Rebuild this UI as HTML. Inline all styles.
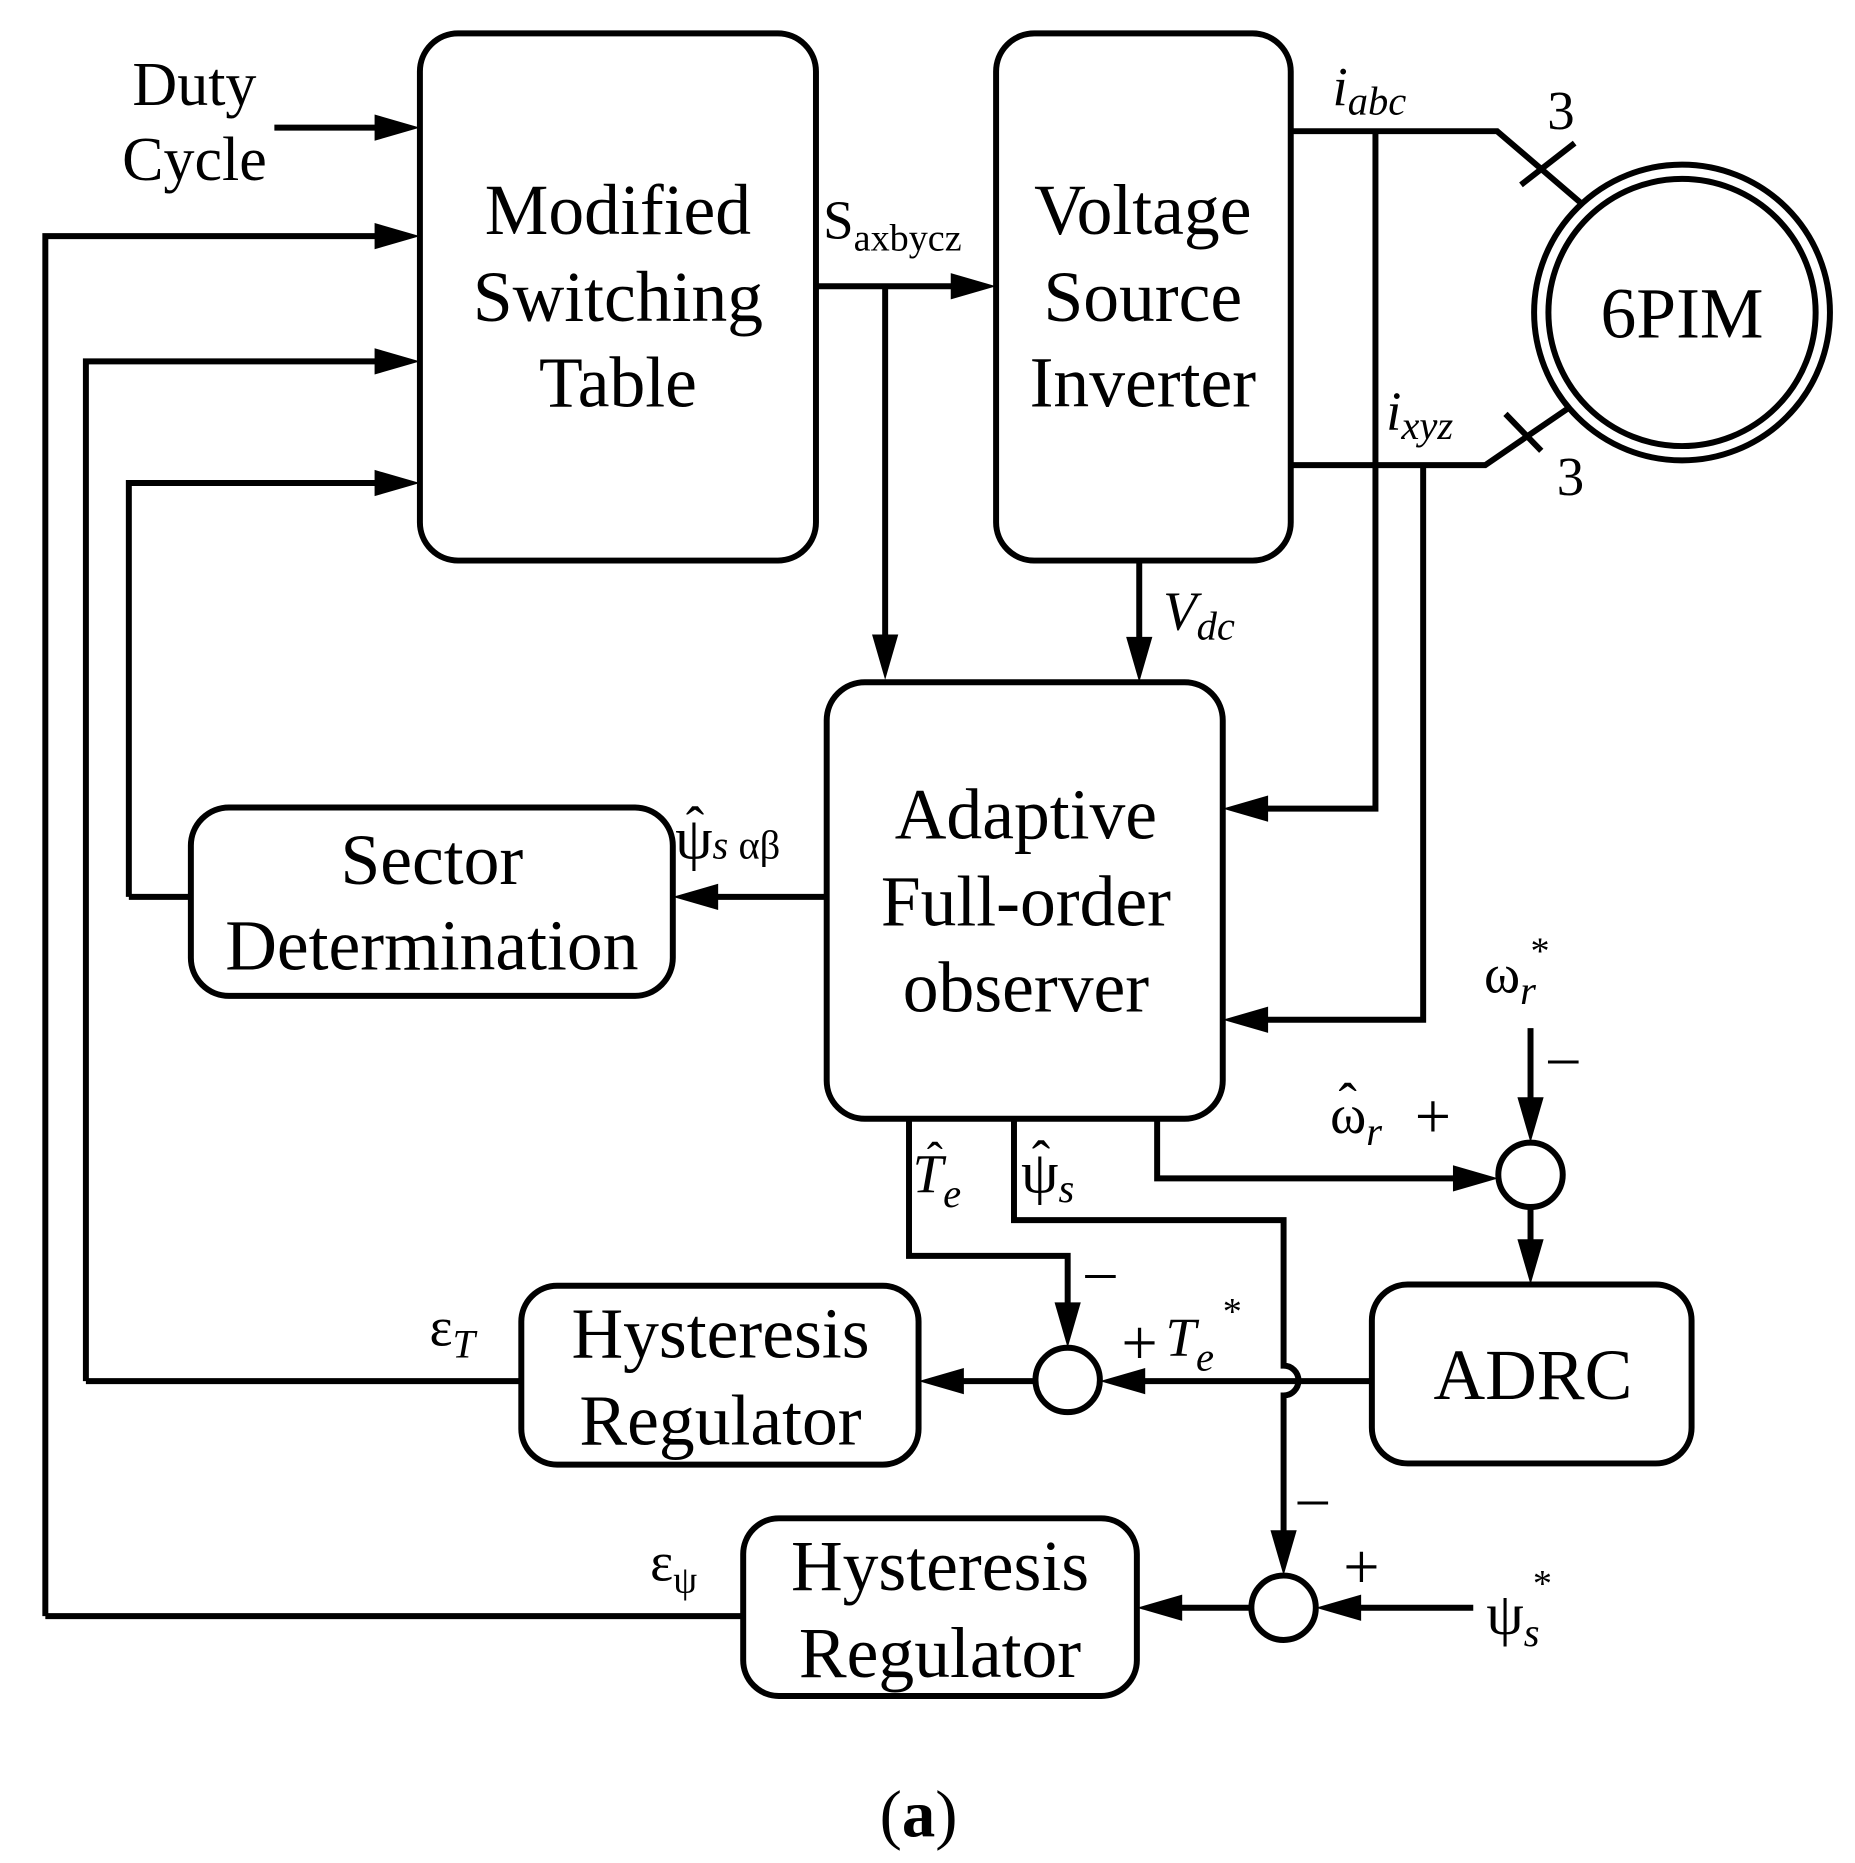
<!DOCTYPE html>
<html><head><meta charset="utf-8"><style>
html,body{margin:0;padding:0;background:#fff;}
svg{display:block;}
text{font-family:"Liberation Serif",serif;fill:#000;}
</style></head><body>
<svg width="1855" height="1863" viewBox="0 0 1555 1562" preserveAspectRatio="none" xmlns="http://www.w3.org/2000/svg">
<g fill="none" stroke="#000" stroke-width="5">
<rect x="352" y="28" width="332" height="442" rx="32"/>
<rect x="835" y="28" width="247" height="442" rx="32"/>
<rect x="693" y="572" width="332" height="366" rx="32"/>
<rect x="160" y="677" width="404" height="158" rx="32"/>
<rect x="437" y="1078" width="333" height="150" rx="30"/>
<rect x="623" y="1273" width="330" height="149" rx="30"/>
<rect x="1150" y="1077" width="268" height="150" rx="30"/>
<circle cx="1410" cy="262" r="124"/>
<circle cx="1410" cy="262" r="112"/>
<circle cx="1283" cy="985" r="27"/>
<circle cx="895" cy="1157" r="27"/>
<circle cx="1076" cy="1348" r="27"/>
<path d="M230 107H320"/>
<path d="M38 1355V198H320"/>
<path d="M38 1355H623"/>
<path d="M72 1158V303H320"/>
<path d="M72 1158H437"/>
<path d="M108 752V405H320"/>
<path d="M108 752H160"/>
<path d="M684 240H800"/>
<path d="M742 240V540"/>
<path d="M955 470V540"/>
<path d="M1082 110H1255L1325 170"/>
<path d="M1275 155L1320 120"/>
<path d="M1153 110V678H1060"/>
<path d="M1082 390H1245L1315 342"/>
<path d="M1262 347L1292 378"/>
<path d="M1193 390V855H1060"/>
<path d="M693 752H598"/>
<path d="M762 938V1053H895V1100"/>
<path d="M850 938V1023H1076V1145A12 12 0 0 1 1076 1170V1290"/>
<path d="M970 938V988H1222"/>
<path d="M1283 862V928"/>
<path d="M1283 1012V1045"/>
<path d="M1150 1158H958"/>
<path d="M868 1158H805"/>
<path d="M1235 1348H1138"/>
<path d="M1049 1348H990"/>
</g>
<g fill="#000">
<polygon points="352,107 314,96 314,118"/>
<polygon points="352,198 314,187 314,209"/>
<polygon points="352,303 314,292 314,314"/>
<polygon points="352,405 314,394 314,416"/>
<polygon points="835,240 797,229 797,251"/>
<polygon points="742,570 731,532 753,532"/>
<polygon points="955,572 944,534 966,534"/>
<polygon points="1025,678 1063,667 1063,689"/>
<polygon points="1025,855 1063,844 1063,866"/>
<polygon points="564,752 602,741 602,763"/>
<polygon points="895,1130 884,1092 906,1092"/>
<polygon points="1076,1321 1065,1283 1087,1283"/>
<polygon points="1256,988 1218,977 1218,999"/>
<polygon points="1283,958 1272,920 1294,920"/>
<polygon points="1283,1077 1272,1039 1294,1039"/>
<polygon points="922,1158 960,1147 960,1169"/>
<polygon points="770,1158 808,1147 808,1169"/>
<polygon points="1103,1348 1141,1337 1141,1359"/>
<polygon points="953,1348 991,1337 991,1359"/>
</g>
<g font-size="60" text-anchor="middle">
<text x="518" y="196">Modified</text>
<text x="518" y="269">Switching</text>
<text x="518" y="341">Table</text>
<text x="958" y="196">Voltage</text>
<text x="958" y="269">Source</text>
<text x="958" y="341">Inverter</text>
<text x="860" y="703">Adaptive</text>
<text x="860" y="776">Full-order</text>
<text x="860" y="848">observer</text>
<text x="362" y="741">Sector</text>
<text x="362" y="813">Determination</text>
<text x="604" y="1138">Hysteresis</text>
<text x="604" y="1211">Regulator</text>
<text x="788" y="1333">Hysteresis</text>
<text x="788" y="1406">Regulator</text>
<text x="1285" y="1173">ADRC</text>
<text x="1410" y="283">6PIM</text>
<text x="163" y="88" font-size="52">Duty</text>
<text x="163" y="151" font-size="52">Cycle</text>
<text x="770" y="1540" font-size="56"><tspan>(</tspan><tspan font-weight="bold">a</tspan><tspan>)</tspan></text>
</g>
<g font-size="46">
<text x="690" y="200">S<tspan font-size="32" dy="10">axbycz</tspan></text>
<text x="1117" y="88" font-style="italic">i<tspan font-size="34" dy="8">abc</tspan></text>
<text x="1162" y="360" font-style="italic">i<tspan font-size="34" dy="8">xyz</tspan></text>
<text x="1297" y="108">3</text>
<text x="1305" y="415">3</text>
<text x="975" y="528" font-style="italic">V<tspan font-size="34" dy="8">dc</tspan></text>
<text x="566" y="720" font-size="50">ψ<tspan font-size="34"><tspan font-style="italic">s</tspan> αβ</tspan></text>
<text x="575" y="708">ˆ</text>
<text x="765" y="1000" font-style="italic">T<tspan font-size="34" dy="12">e</tspan></text>
<text x="777" y="985" font-size="40">ˆ</text>
<text x="856" y="1000" font-size="50">ψ<tspan font-size="34" dy="8" font-style="italic">s</tspan></text>
<text x="865" y="988">ˆ</text>
<text x="1115" y="950">ω<tspan font-size="34" dy="10" font-style="italic">r</tspan></text>
<text x="1122" y="940">ˆ</text>
<text x="1186" y="954" font-size="54">+</text>
<text x="1244" y="832">ω<tspan font-size="34" dy="10" font-style="italic">r</tspan></text>
<text x="1283" y="808" font-size="32">*</text>
<text x="1298" y="902" font-size="50">–</text>
<text x="910" y="1082" font-size="50">–</text>
<text x="940" y="1144" font-size="54">+</text>
<text x="977" y="1137" font-style="italic">T<tspan font-size="34" dy="12">e</tspan></text>
<text x="1025" y="1110" font-size="32">*</text>
<text x="1088" y="1272" font-size="50">–</text>
<text x="1126" y="1332" font-size="54">+</text>
<text x="1246" y="1370" font-size="50">ψ<tspan font-size="34" dy="10" font-style="italic">s</tspan></text>
<text x="1285" y="1338" font-size="32">*</text>
<text x="360" y="1128">ε<tspan font-size="34" dy="10" font-style="italic">T</tspan></text>
<text x="545" y="1325">ε<tspan font-size="32" dy="10">ψ</tspan></text>
</g>
</svg>
</body></html>
